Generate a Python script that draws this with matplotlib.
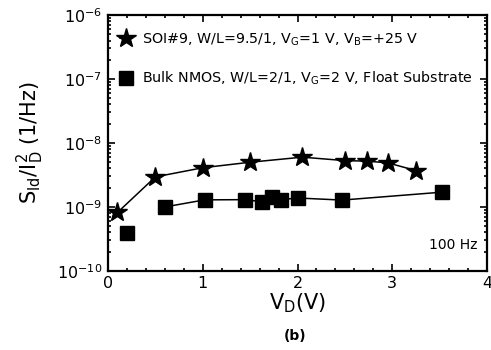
import matplotlib
matplotlib.use("Agg")
import matplotlib.pyplot as plt
from matplotlib.ticker import MultipleLocator, LogLocator, NullFormatter

plt.rcParams['font.family'] = ['DejaVu Sans']
plt.rcParams['mathtext.fontset'] = 'dejavusans'

soi_vd = [0.1, 0.5, 1.0, 1.5, 2.05, 2.5, 2.73, 2.95, 3.25]
soi_s = [8.2e-10, 2.95e-9, 4.1e-9, 5.0e-9, 6.0e-9, 5.3e-9, 5.2e-9, 4.9e-9, 3.7e-9]

bulk_vd = [0.2, 0.6, 1.02, 1.45, 1.63, 1.73, 1.83, 2.0, 2.47, 3.52]
bulk_s = [3.9e-10, 1.0e-9, 1.29e-9, 1.3e-9, 1.2e-9, 1.42e-9, 1.3e-9, 1.38e-9, 1.28e-9, 1.7e-9]

soi_label = r'SOI#9, W/L=9.5/1, V$_\mathregular{G}$=1 V, V$_\mathregular{B}$=+25 V'
bulk_label = r'Bulk NMOS, W/L=2/1, V$_\mathregular{G}$=2 V, Float Substrate'

fig = plt.figure(figsize=(4.91, 3.5), dpi=100)
ax = fig.add_axes([0.22, 0.226, 0.772, 0.731])

ax.plot(soi_vd, soi_s, color='black', lw=1.1, marker='*', ms=15, mfc='black', mec='black', label=soi_label)
ax.plot(bulk_vd[1:], bulk_s[1:], color='black', lw=1.1)
ax.plot(bulk_vd, bulk_s, ls='none', marker='s', ms=10, mfc='black', mec='black', label=bulk_label)

ax.set_yscale('log')
ax.set_xlim(0, 4)
ax.set_ylim(1e-10, 1e-6)
ax.xaxis.set_major_locator(MultipleLocator(1))
ax.xaxis.set_minor_locator(MultipleLocator(0.2))
ax.yaxis.set_major_locator(LogLocator(base=10, numticks=10))
ax.yaxis.set_minor_locator(LogLocator(base=10, subs=range(2, 10), numticks=10))
ax.yaxis.set_minor_formatter(NullFormatter())
ax.tick_params(which='both', direction='in', top=True, right=True, labelsize=11.5, width=1.2)
ax.tick_params(which='major', length=5, pad=4)
ax.tick_params(which='minor', length=2.5)
for s in ax.spines.values():
    s.set_linewidth(1.6)

ax.set_ylabel(r'S$_\mathregular{Id}$/I$_\mathregular{D}^\mathregular{2}$ (1/Hz)', fontsize=15, labelpad=8)
ax.set_xlabel(r'V$_\mathregular{D}$(V)', fontsize=15, labelpad=0)

ax.text(0.975, 0.1, '100 Hz', transform=ax.transAxes, ha='right', va='center', fontsize=10)

handles, labels = ax.get_legend_handles_labels()
leg = ax.legend(handles, labels, loc='upper left', bbox_to_anchor=(0.01, 0.97), frameon=False,
                fontsize=10.3, handlelength=0.8, handletextpad=0.7, labelspacing=1.55, borderaxespad=0.2)

fig.text(0.6, 0.04, '(b)', ha='center', va='center', fontsize=10, fontweight='bold')

fig.savefig('out.png', dpi=100)
